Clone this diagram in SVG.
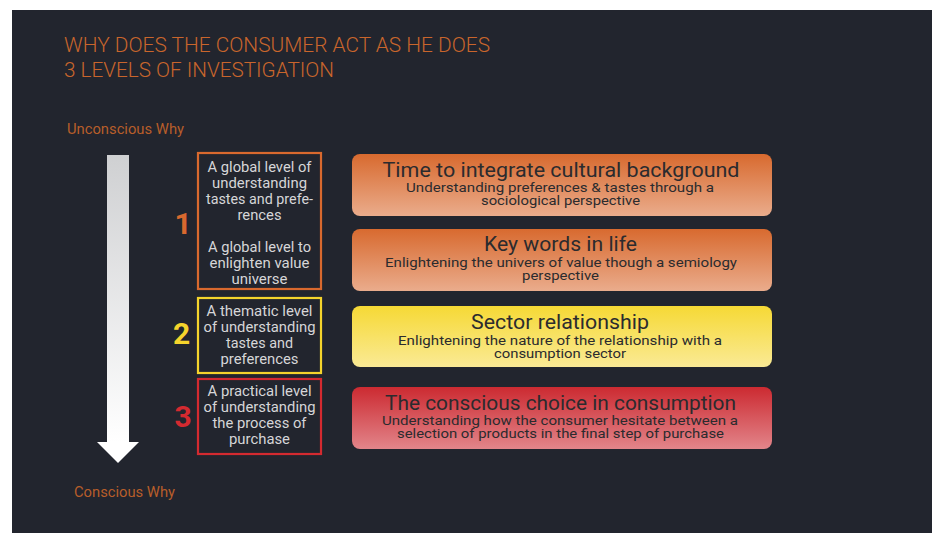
<svg xmlns="http://www.w3.org/2000/svg" width="932" height="533" viewBox="0 0 932 533">
<style>
  text { font-family: Roboto, "Liberation Sans", sans-serif; }
  .hdr { fill: #c9652c; font-size: 21px; font-weight: 300; }
  .why { fill: #b85e2a; font-size: 14px; }
  .lvl { fill: #d6d6d8; font-size: 14px; text-anchor: middle; }
  .num { font-size: 30px; font-weight: bold; text-anchor: middle; }
  .ttl { fill: #2b2b2e; font-size: 21px; text-anchor: middle; }
  .sub { fill: #2b2b2e; font-size: 13px; text-anchor: middle; }
  .box { fill: none; stroke-width: 2.2; }
</style>
<defs>
  <linearGradient id="gShaft" x1="0" y1="0" x2="0" y2="1">
    <stop offset="0" stop-color="#cfd0d2"/>
    <stop offset="1" stop-color="#ffffff"/>
  </linearGradient>
  <linearGradient id="gOr" x1="0" y1="0" x2="0" y2="1">
    <stop offset="0" stop-color="#d86a2f"/>
    <stop offset="1" stop-color="#eaac8c"/>
  </linearGradient>
  <linearGradient id="gYe" x1="0" y1="0" x2="0" y2="1">
    <stop offset="0" stop-color="#f6d935"/>
    <stop offset="1" stop-color="#faea95"/>
  </linearGradient>
  <linearGradient id="gRe" x1="0" y1="0" x2="0" y2="1">
    <stop offset="0" stop-color="#cc2a31"/>
    <stop offset="1" stop-color="#e2858a"/>
  </linearGradient>
</defs>
<rect x="0" y="0" width="932" height="533" fill="#ffffff"/>
<rect x="12" y="10" width="920" height="523" fill="#22252e"/>

<g id="header">
  <text class="hdr" x="64" y="52" textLength="426" lengthAdjust="spacingAndGlyphs">WHY DOES THE CONSUMER ACT AS HE DOES</text>
  <text class="hdr" x="64" y="77" textLength="270" lengthAdjust="spacingAndGlyphs">3 LEVELS OF INVESTIGATION</text>
</g>

<g id="axis">
  <text class="why" x="67" y="134" textLength="117" lengthAdjust="spacingAndGlyphs">Unconscious Why</text>
  <rect x="107" y="155" width="22" height="288" fill="url(#gShaft)"/>
  <polygon points="97,442 139,442 118,463" fill="#ffffff"/>
  <text class="why" x="74" y="497" textLength="101" lengthAdjust="spacingAndGlyphs">Conscious Why</text>
</g>

<g id="level1">
  <text class="num" x="183" y="234" fill="#d9692e">1</text>
  <rect class="box" x="198" y="153" width="123" height="136" stroke="#d9692e"/>
  <text class="lvl" x="259.5" y="172" textLength="104" lengthAdjust="spacingAndGlyphs">A global level of</text>
  <text class="lvl" x="259.5" y="188" textLength="95" lengthAdjust="spacingAndGlyphs">understanding</text>
  <text class="lvl" x="259.5" y="204" textLength="107" lengthAdjust="spacingAndGlyphs">tastes and prefe-</text>
  <text class="lvl" x="259.5" y="220" textLength="44" lengthAdjust="spacingAndGlyphs">rences</text>
  <text class="lvl" x="259.5" y="252" textLength="103" lengthAdjust="spacingAndGlyphs">A global level to</text>
  <text class="lvl" x="259.5" y="268" textLength="100" lengthAdjust="spacingAndGlyphs">enlighten value</text>
  <text class="lvl" x="259.5" y="284" textLength="56" lengthAdjust="spacingAndGlyphs">universe</text>
</g>

<g id="level2">
  <text class="num" x="181.5" y="344" fill="#f5d42c">2</text>
  <rect class="box" x="198" y="298" width="123" height="75" stroke="#f5d42c"/>
  <text class="lvl" x="259.5" y="316" textLength="106" lengthAdjust="spacingAndGlyphs">A thematic level</text>
  <text class="lvl" x="259.5" y="332" textLength="112" lengthAdjust="spacingAndGlyphs">of understanding</text>
  <text class="lvl" x="259.5" y="348" textLength="67" lengthAdjust="spacingAndGlyphs">tastes and</text>
  <text class="lvl" x="259.5" y="364" textLength="78" lengthAdjust="spacingAndGlyphs">preferences</text>
</g>

<g id="level3">
  <text class="num" x="183" y="427" fill="#d42a30">3</text>
  <rect class="box" x="198" y="379" width="123" height="75" stroke="#d42a30"/>
  <text class="lvl" x="259.5" y="396" textLength="104" lengthAdjust="spacingAndGlyphs">A practical level</text>
  <text class="lvl" x="259.5" y="412" textLength="112" lengthAdjust="spacingAndGlyphs">of understanding</text>
  <text class="lvl" x="259.5" y="428" textLength="94" lengthAdjust="spacingAndGlyphs">the process of</text>
  <text class="lvl" x="259.5" y="444" textLength="61" lengthAdjust="spacingAndGlyphs">purchase</text>
</g>

<g id="boxA">
  <rect x="352" y="154" width="420" height="62" rx="8" fill="url(#gOr)"/>
  <text class="ttl" x="561" y="177" textLength="357" lengthAdjust="spacingAndGlyphs">Time to integrate cultural background</text>
  <text class="sub" x="560" y="192" textLength="308" lengthAdjust="spacingAndGlyphs">Understanding preferences &amp; tastes through a</text>
  <text class="sub" x="560.5" y="205" textLength="159" lengthAdjust="spacingAndGlyphs">sociological perspective</text>
</g>

<g id="boxB">
  <rect x="352" y="229" width="420" height="62" rx="8" fill="url(#gOr)"/>
  <text class="ttl" x="560.5" y="251" textLength="153" lengthAdjust="spacingAndGlyphs">Key words in life</text>
  <text class="sub" x="561" y="267" textLength="352" lengthAdjust="spacingAndGlyphs">Enlightening the univers of value though a semiology</text>
  <text class="sub" x="560.5" y="280" textLength="77" lengthAdjust="spacingAndGlyphs">perspective</text>
</g>

<g id="boxC">
  <rect x="352" y="306" width="420" height="61" rx="8" fill="url(#gYe)"/>
  <text class="ttl" x="560" y="329" textLength="178" lengthAdjust="spacingAndGlyphs">Sector relationship</text>
  <text class="sub" x="560" y="345" textLength="324" lengthAdjust="spacingAndGlyphs">Enlightening the nature of the relationship with a</text>
  <text class="sub" x="560" y="358" textLength="132" lengthAdjust="spacingAndGlyphs">consumption sector</text>
</g>

<g id="boxD">
  <rect x="352" y="387" width="420" height="62" rx="8" fill="url(#gRe)"/>
  <text class="ttl" x="560.5" y="410" textLength="351" lengthAdjust="spacingAndGlyphs">The conscious choice in consumption</text>
  <text class="sub" x="560" y="425" textLength="356" lengthAdjust="spacingAndGlyphs">Understanding how the consumer hesitate between a</text>
  <text class="sub" x="560.5" y="438" textLength="327" lengthAdjust="spacingAndGlyphs">selection of products in the final step of purchase</text>
</g>

<g id="connectors"></g>
</svg>
